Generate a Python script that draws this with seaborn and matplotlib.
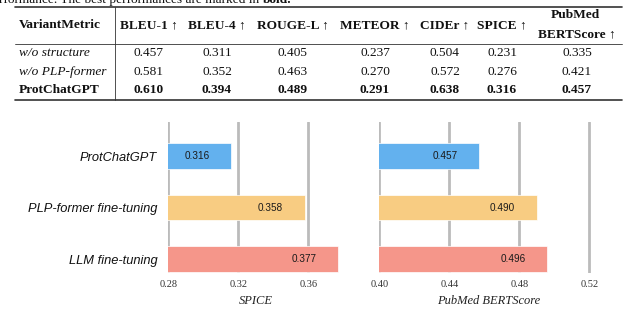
import matplotlib
matplotlib.use("Agg")
import matplotlib.pyplot as plt
from matplotlib.lines import Line2D
import pandas as pd
import seaborn as sns

# table values (ablation)
metrics = ["BLEU-1 ↑", "BLEU-4 ↑", "ROUGE-L ↑", "METEOR ↑", "CIDEr ↑", "SPICE ↑", "BERTScore ↑"]
variants = ["w/o structure", "w/o PLP-former", "ProtChatGPT"]
wo_structure = [0.457, 0.311, 0.405, 0.237, 0.504, 0.231, 0.335]
wo_plp_former = [0.581, 0.352, 0.463, 0.270, 0.572, 0.276, 0.421]
protchatgpt = [0.610, 0.394, 0.489, 0.291, 0.638, 0.316, 0.457]

# bar chart values
methods = ["ProtChatGPT", "PLP-former fine-tuning", "LLM fine-tuning"]
spice = [0.316, 0.358, 0.377]
pubmed_bertscore = [0.457, 0.490, 0.496]
bar_colors = ["#63B1EE", "#F8CC82", "#F5968A"]

W, H = 640, 327
sns.set_theme(style="white")
plt.rcParams["font.family"] = ["Liberation Serif", "DejaVu Serif"]

fig = plt.figure(figsize=(W / 100, H / 100), dpi=100)


def fx(x):
    return x / W


def fy(y):
    return 1 - y / H


def cell(x, y, s, **kw):
    fig.text(fx(x), fy(y), s, ha="center", va="center", fontsize=9.6,
             color="#111111", **kw)


def hline(y, x0, x1, lw):
    fig.add_artist(Line2D([fx(x0), fx(x1)], [fy(y), fy(y)], color="#333333",
                          linewidth=lw, transform=fig.transFigure))


# caption fragment cut off at the top edge
cap = fig.text(fx(-1), fy(3), "rformance. The best performances are marked in ",
               fontsize=9.6, va="baseline", color="#111111")
fig.canvas.draw()
bb = cap.get_window_extent()
fig.text(bb.x1 / W, fy(3), "bold.", fontsize=9.6, va="baseline",
         fontweight="bold", color="#111111")

# table
col_x = [149, 217, 293, 375, 445, 502, 577]
row_y = [53, 72, 90]
hline(7, 15, 622, 1.2)
hline(44, 15, 622, 0.6)
hline(100, 15, 622, 1.2)
fig.add_artist(Line2D([fx(115), fx(115)], [fy(7), fy(100)], color="#333333",
                      linewidth=0.6, transform=fig.transFigure))

fig.text(fx(19), fy(25), "VariantMetric", ha="left", va="center", fontsize=9.6,
         fontweight="bold", color="#111111")
for x, m in zip(col_x[:-1], metrics[:-1]):
    cell(x, 25, m, fontweight="bold")
cell(col_x[-1] - 2, 15, "PubMed", fontweight="bold")
cell(col_x[-1], 34, metrics[-1], fontweight="bold")

rows = [wo_structure, wo_plp_former, protchatgpt]
for i, (name, vals) in enumerate(zip(variants, rows)):
    bold = i == 2
    fig.text(fx(19), fy(row_y[i]), name, ha="left", va="center", fontsize=9.6,
             fontstyle="normal" if bold else "italic",
             fontweight="bold" if bold else "normal", color="#111111")
    for x, v in zip(col_x, vals):
        cell(x, row_y[i], f"{v:.3f}", fontweight="bold" if bold else "normal")

# bar panels
ax1 = fig.add_axes([fx(168.3), 54 / H, 175 / W, 151 / H])
ax2 = fig.add_axes([fx(379.3), 54 / H, 218.75 / W, 151 / H])


def panel(ax, values, xlim, ticks, xlabel, show_names):
    df = pd.DataFrame({"method": methods, "score": values})
    sns.barplot(data=df, x="score", y="method", hue="method", palette=bar_colors,
                orient="h", width=0.5, legend=False, ax=ax, saturation=1,
                edgecolor="white", linewidth=0.5)
    ax.set_xlim(xlim)
    ax.set_ylim(2.27, -0.66)
    ax.set_xticks(ticks)
    ax.set_xticklabels([f"{t:.2f}" for t in ticks])
    ax.xaxis.grid(True, color="#BBBBBB", linewidth=2)
    ax.yaxis.grid(False)
    ax.set_axisbelow(True)
    for s in ax.spines.values():
        s.set_visible(False)
    ax.tick_params(axis="x", length=0, labelsize=7.5, labelcolor="#333333", pad=5)
    ax.tick_params(axis="y", length=0, pad=8)
    ax.set_xlabel(xlabel, fontsize=9, fontstyle="italic", color="#222222", labelpad=4)
    ax.set_ylabel("")
    if show_names:
        for lab in ax.get_yticklabels():
            lab.set_fontfamily("Liberation Sans")
            lab.set_fontstyle("italic")
            lab.set_fontsize(9.3)
            lab.set_color("#111111")
    else:
        ax.set_yticklabels([])
    for i, v in enumerate(values):
        ax.text(v - 0.0195, i, f"{v:.3f}", ha="center", va="center", fontsize=7.2,
                family="Liberation Sans", color="#1a1a1a")


panel(ax1, spice, (0.28, 0.38), [0.28, 0.32, 0.36], "SPICE", True)
panel(ax2, pubmed_bertscore, (0.40, 0.525), [0.40, 0.44, 0.48, 0.52],
      "PubMed BERTScore", False)

fig.savefig("out.png", dpi=100)
